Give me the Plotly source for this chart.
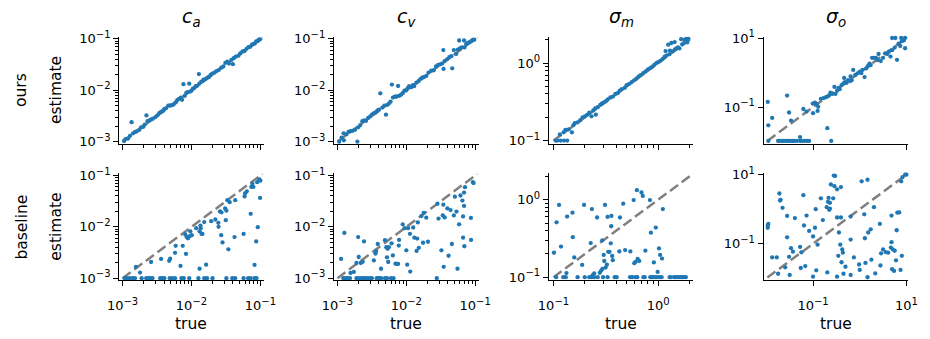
import plotly.graph_objects as go

# ---------------- data ----------------
# c_a, "ours" row
ca_true_ours = [1.05e-3, 1.10e-3, 1.20e-3, 1.28e-3, 1.35e-3, 1.42e-3, 1.52e-3, 1.60e-3, 1.75e-3, 1.85e-3,
                2.00e-3, 2.10e-3, 2.22e-3, 2.30e-3, 2.45e-3, 2.60e-3, 2.75e-3, 3.00e-3, 3.20e-3, 3.40e-3,
                3.60e-3, 3.80e-3, 4.00e-3, 4.30e-3, 4.60e-3, 4.90e-3, 5.20e-3, 5.50e-3, 5.90e-3, 6.20e-3,
                6.60e-3, 7.00e-3, 7.30e-3, 7.64e-3, 8.00e-3, 8.40e-3, 8.80e-3, 9.27e-3, 9.50e-3, 1.00e-2,
                1.05e-2, 1.10e-2, 1.15e-2, 1.20e-2, 1.28e-2, 1.30e-2, 1.38e-2, 1.45e-2, 1.50e-2, 1.60e-2,
                1.70e-2, 1.80e-2, 1.90e-2, 2.00e-2, 2.15e-2, 2.30e-2, 2.50e-2, 2.70e-2, 2.90e-2, 3.10e-2,
                3.30e-2, 3.50e-2, 3.99e-2, 3.80e-2, 4.10e-2, 4.40e-2, 4.80e-2, 5.10e-2, 5.50e-2, 5.90e-2,
                6.30e-2, 6.70e-2, 7.10e-2, 7.50e-2, 7.90e-2, 8.30e-2, 8.70e-2, 9.10e-2, 9.50e-2, 9.90e-2]
ca_est_ours = [1.03e-3, 1.12e-3, 1.15e-3, 1.30e-3, 2.39e-3, 1.45e-3, 1.55e-3, 1.58e-3, 1.70e-3, 1.90e-3,
               1.95e-3, 2.15e-3, 3.24e-3, 2.50e-3, 2.60e-3, 2.70e-3, 2.80e-3, 3.00e-3, 3.25e-3, 3.60e-3,
               3.80e-3, 3.90e-3, 4.30e-3, 4.50e-3, 5.00e-3, 5.10e-3, 5.10e-3, 5.30e-3, 5.80e-3, 6.40e-3,
               6.80e-3, 7.20e-3, 6.50e-3, 1.31e-2, 7.80e-3, 8.90e-3, 9.20e-3, 1.34e-2, 9.40e-3, 9.80e-3,
               1.08e-2, 1.10e-2, 1.20e-2, 1.22e-2, 2.06e-2, 1.35e-2, 1.45e-2, 1.50e-2, 1.60e-2, 1.65e-2,
               1.75e-2, 1.82e-2, 2.00e-2, 2.10e-2, 2.20e-2, 2.35e-2, 2.50e-2, 2.75e-2, 2.90e-2, 3.40e-2,
               3.60e-2, 3.30e-2, 3.22e-2, 3.90e-2, 4.20e-2, 4.50e-2, 4.70e-2, 5.20e-2, 5.70e-2, 5.80e-2,
               6.40e-2, 6.90e-2, 7.00e-2, 7.60e-2, 8.00e-2, 8.10e-2, 8.90e-2, 9.00e-2, 9.60e-2, 9.80e-2]

# c_v, "ours" row
cv_true_ours = [1.06e-3, 1.15e-3, 1.23e-3, 1.24e-3, 1.35e-3, 1.45e-3, 1.55e-3, 1.65e-3, 1.80e-3, 1.95e-3,
                2.00e-3, 2.15e-3, 2.30e-3, 2.45e-3, 2.60e-3, 2.80e-3, 3.00e-3, 3.20e-3, 3.40e-3, 3.60e-3,
                3.80e-3, 4.00e-3, 4.20e-3, 4.50e-3, 4.80e-3, 5.07e-3, 5.30e-3, 5.60e-3, 5.90e-3, 6.17e-3,
                6.40e-3, 6.80e-3, 7.20e-3, 7.60e-3, 7.90e-3, 8.40e-3, 8.90e-3, 9.40e-3, 1.00e-2, 1.05e-2,
                1.10e-2, 1.18e-2, 1.25e-2, 1.30e-2, 1.40e-2, 1.50e-2, 1.60e-2, 1.70e-2, 1.80e-2, 1.95e-2,
                2.10e-2, 2.30e-2, 2.50e-2, 2.70e-2, 2.90e-2, 3.10e-2, 3.30e-2, 3.45e-2, 3.47e-2, 3.60e-2,
                3.90e-2, 4.20e-2, 4.64e-2, 4.50e-2, 4.90e-2, 5.30e-2, 5.85e-2, 5.60e-2, 6.00e-2, 6.40e-2,
                6.90e-2, 7.00e-2, 7.40e-2, 7.80e-2, 8.30e-2, 8.77e-2, 9.20e-2, 9.70e-2]
cv_est_ours = [1.00e-3, 1.20e-3, 1.45e-3, 1.06e-3, 1.38e-3, 1.55e-3, 1.60e-3, 1.62e-3, 1.70e-3, 1.00e-3,
               1.90e-3, 2.10e-3, 2.50e-3, 2.60e-3, 2.55e-3, 2.90e-3, 3.10e-3, 3.40e-3, 3.60e-3, 3.70e-3,
               4.00e-3, 4.20e-3, 8.70e-3, 4.60e-3, 5.00e-3, 3.34e-3, 5.20e-3, 5.50e-3, 6.00e-3, 1.29e-2,
               7.20e-3, 7.50e-3, 7.60e-3, 1.21e-2, 7.80e-3, 8.20e-3, 8.80e-3, 9.80e-3, 1.00e-2, 1.10e-2,
               1.20e-2, 1.15e-2, 1.25e-2, 1.20e-2, 1.40e-2, 1.50e-2, 1.65e-2, 1.75e-2, 1.80e-2, 1.90e-2,
               2.20e-2, 2.40e-2, 2.45e-2, 2.90e-2, 3.10e-2, 3.20e-2, 3.30e-2, 6.05e-2, 2.60e-2, 3.70e-2,
               4.00e-2, 4.40e-2, 2.67e-2, 4.60e-2, 6.05e-2, 5.10e-2, 9.30e-2, 6.20e-2, 6.50e-2, 6.80e-2,
               9.30e-2, 6.80e-2, 7.90e-2, 8.30e-2, 8.60e-2, 9.00e-2, 9.50e-2, 9.60e-2]

# sigma_m, "ours" row
sm_true_ours = [0.115, 0.125, 0.130, 0.140, 0.150, 0.155, 0.160, 0.170, 0.180, 0.190,
                0.200, 0.210, 0.220, 0.231, 0.240, 0.254, 0.250, 0.265, 0.280, 0.290,
                0.300, 0.315, 0.330, 0.350, 0.370, 0.390, 0.410, 0.430, 0.450, 0.480,
                0.500, 0.530, 0.560, 0.590, 0.620, 0.650, 0.680, 0.720, 0.760, 0.800,
                0.840, 0.880, 0.920, 0.960, 1.000, 1.050, 1.100, 1.150, 1.180, 1.200,
                1.250, 1.280, 1.300, 1.340, 1.380, 1.440, 1.450, 1.500, 1.550, 1.600,
                1.660, 1.700, 1.750, 1.790, 1.850, 1.900, 1.950]
sm_est_ours = [0.120, 0.128, 0.137, 0.140, 0.128, 0.158, 0.168, 0.172, 0.183, 0.200,
               0.205, 0.215, 0.230, 0.206, 0.245, 0.216, 0.260, 0.270, 0.290, 0.300,
               0.310, 0.320, 0.340, 0.360, 0.370, 0.400, 0.410, 0.440, 0.460, 0.480,
               0.520, 0.540, 0.570, 0.600, 0.630, 0.670, 0.700, 0.740, 0.780, 0.830,
               0.860, 0.900, 0.950, 1.000, 1.030, 1.070, 1.130, 1.200, 1.430, 1.250,
               1.730, 1.300, 1.450, 1.820, 1.420, 1.870, 1.500, 1.550, 1.600, 1.550,
               2.040, 1.750, 1.800, 2.000, 2.050, 1.850, 2.050]
sm_floor_true_ours = [0.105, 0.109, 0.117, 0.126, 0.135]

# sigma_o, "ours" row
so_true_ours = [0.0107, 0.0110, 0.0133, 0.0278, 0.0306, 0.0337, 0.0527, 0.0619, 0.0726, 0.100,
                0.0984, 0.110, 0.118, 0.125, 0.129, 0.202, 0.147, 0.167, 0.185, 0.202,
                0.219, 0.235, 0.257, 0.287, 0.301, 0.327, 0.350, 0.371, 0.408, 0.449,
                0.479, 0.464, 0.520, 0.560, 0.619, 0.639, 0.670, 0.726, 0.800, 0.900,
                1.00, 1.08, 1.15, 1.27, 1.38, 1.49, 1.62, 1.72, 1.84, 2.05,
                2.22, 2.40, 2.53, 2.83, 3.16, 3.50, 3.89, 4.20, 4.57, 4.95,
                5.62, 6.29, 6.81, 7.99, 7.38, 4.95, 5.81, 7.74, 9.38, 9.38,
                8.80]
so_est_ours = [0.141, 0.0297, 0.0484, 0.215, 0.0696, 0.0408, 0.0135, 0.0880, 0.0741, 0.0667,
               0.126, 0.135, 0.121, 0.0774, 0.102, 0.0245, 0.174, 0.182, 0.190, 0.202,
               0.215, 0.260, 0.240, 0.383, 0.240, 0.297, 0.360, 0.330, 0.435, 0.484,
               0.527, 0.696, 0.500, 0.600, 0.562, 0.774, 0.600, 1.19, 0.850, 0.950,
               1.07, 0.958, 1.20, 0.741, 1.32, 1.53, 1.82, 1.65, 2.67, 2.67,
               2.67, 2.30, 3.44, 2.15, 2.67, 3.60, 3.44, 4.00, 2.90, 4.45,
               5.27, 2.34, 6.81, 8.08, 5.87, 10.0, 10.0, 10.0, 10.0, 5.05,
               8.50]
so_floor_true_ours = [0.0110, 0.0178, 0.0190, 0.0215, 0.0233, 0.0261, 0.0287, 0.0321, 0.0359,
                      0.0396, 0.0450, 0.0527, 0.0581, 0.0660, 0.0750, 0.0825, 0.245]

# c_a, "baseline" row
ca_true_base = [1.56e-3, 1.79e-3, 2.59e-3, 3.62e-3, 4.74e-3, 4.90e-3, 5.77e-3, 5.89e-3, 6.92e-3, 7.46e-3,
                8.32e-3, 8.14e-3, 8.51e-3, 8.88e-3, 9.47e-3, 1.01e-2, 9.60e-3, 1.17e-2, 1.31e-2, 1.35e-2,
                1.36e-2, 1.40e-2, 1.31e-2, 1.44e-2, 1.53e-2, 1.63e-2, 1.93e-2, 2.22e-2, 2.45e-2, 2.47e-2,
                2.70e-2, 2.82e-2, 3.15e-2, 3.43e-2, 2.59e-2, 2.72e-2, 3.08e-2, 3.21e-2, 3.32e-2, 3.58e-2,
                4.21e-2, 4.31e-2, 5.70e-2, 5.89e-2, 6.00e-2, 6.35e-2, 7.23e-2, 7.40e-2, 7.65e-2, 7.90e-2,
                8.23e-2, 8.69e-2, 9.17e-2, 9.00e-2, 9.68e-2, 9.90e-2, 1.00e-1]
ca_est_base = [1.67e-3, 1.29e-3, 2.07e-3, 2.38e-3, 2.19e-3, 2.40e-3, 3.12e-3, 4.27e-3, 1.74e-3, 4.27e-3,
               2.99e-3, 7.11e-3, 6.34e-3, 6.00e-3, 6.62e-3, 6.90e-3, 8.20e-3, 9.44e-3, 8.20e-3, 1.06e-2,
               9.44e-3, 7.30e-3, 1.53e-3, 7.30e-3, 1.24e-2, 1.84e-3, 1.29e-2, 1.39e-2, 1.20e-2, 1.00e-2,
               6.90e-3, 4.99e-3, 1.35e-2, 3.65e-3, 2.00e-2, 1.92e-2, 2.28e-2, 2.07e-2, 3.30e-2, 3.03e-2,
               6.34e-3, 3.30e-2, 7.30e-3, 3.92e-2, 4.50e-2, 4.91e-2, 1.79e-2, 6.00e-2, 6.92e-2, 6.00e-2,
               1.82e-3, 5.20e-3, 9.87e-3, 7.41e-2, 8.43e-2, 3.65e-2, 7.96e-2]
ca_floor_true_base = [1.07e-3, 1.15e-3, 1.26e-3, 1.40e-3, 1.51e-3, 1.89e-3, 2.20e-3, 2.38e-3, 2.54e-3,
                      2.71e-3, 3.51e-3, 3.78e-3, 4.03e-3, 4.84e-3, 5.28e-3, 5.77e-3, 7.16e-3, 7.72e-3,
                      9.27e-3, 1.26e-2, 1.53e-2, 1.68e-2, 2.02e-2, 3.21e-2, 3.91e-2, 4.31e-2, 5.70e-2,
                      6.64e-2, 7.23e-2, 8.23e-2, 8.78e-2]

# c_v, "baseline" row
cv_true_base = [1.13e-3, 1.26e-3, 1.55e-3, 1.73e-3, 1.89e-3, 2.00e-3, 2.04e-3, 2.18e-3, 2.33e-3, 2.43e-3,
                3.38e-3, 3.57e-3, 3.65e-3, 3.85e-3, 4.30e-3, 4.90e-3, 5.13e-3, 5.24e-3, 5.35e-3, 5.47e-3,
                5.59e-3, 6.11e-3, 6.38e-3, 6.96e-3, 7.27e-3, 7.60e-3, 7.77e-3, 7.86e-3, 8.87e-3, 1.00e-2,
                1.03e-2, 9.46e-3, 1.06e-2, 1.13e-2, 1.14e-2, 1.26e-2, 1.31e-2, 1.44e-2, 1.41e-2, 1.47e-2,
                1.52e-2, 1.66e-2, 1.79e-2, 1.95e-2, 1.75e-2, 2.06e-2, 2.83e-2, 2.93e-2, 3.23e-2, 3.38e-2,
                3.45e-2, 3.49e-2, 3.61e-2, 3.94e-2, 4.11e-2, 4.39e-2, 4.59e-2, 4.90e-2, 5.07e-2, 5.35e-2,
                5.53e-2, 5.84e-2, 6.11e-2, 6.52e-2, 6.67e-2, 6.67e-2, 6.89e-2, 6.89e-2, 6.96e-2, 7.12e-2,
                8.67e-2, 8.70e-2, 9.26e-2, 9.47e-2]
cv_est_base = [2.38e-3, 7.63e-3, 1.27e-3, 1.33e-3, 1.98e-3, 6.34e-3, 2.59e-3, 1.98e-3, 2.09e-3, 5.20e-3,
               2.22e-3, 3.03e-3, 3.40e-3, 4.64e-3, 1.53e-3, 5.51e-3, 4.03e-3, 2.55e-3, 3.75e-3, 2.07e-3,
               4.03e-3, 4.78e-3, 2.78e-3, 1.92e-3, 1.90e-3, 1.90e-3, 4.32e-3, 5.58e-3, 1.12e-2, 3.49e-3,
               1.84e-3, 9.44e-3, 9.44e-3, 7.31e-3, 1.35e-3, 9.72e-3, 6.17e-3, 5.91e-3, 3.40e-3, 1.22e-2,
               3.91e-3, 1.62e-2, 1.87e-2, 1.51e-2, 4.91e-3, 5.13e-3, 2.82e-2, 1.45e-2, 3.49e-3, 1.67e-2,
               2.70e-2, 1.67e-3, 1.53e-2, 2.28e-2, 2.74e-3, 2.12e-2, 4.64e-3, 1.67e-2, 3.86e-2, 1.98e-2,
               1.53e-3, 1.12e-2, 4.08e-2, 3.25e-2, 1.60e-2, 6.17e-3, 2.55e-2, 4.64e-2, 4.20e-3, 5.91e-2,
               1.49e-2, 5.58e-3, 7.41e-2, 7.11e-2]
cv_floor_true_base = [1.22e-3, 1.32e-3, 1.40e-3, 1.52e-3, 1.89e-3, 2.04e-3, 2.23e-3, 2.40e-3, 2.57e-3,
                      2.77e-3, 3.03e-3, 3.16e-3, 3.72e-3, 3.85e-3, 4.07e-3, 4.30e-3, 4.90e-3, 5.24e-3,
                      5.97e-3, 6.52e-3, 2.77e-2]

# sigma_m, "baseline" row
sm_true_base = [0.101, 0.107, 0.113, 0.118, 0.133, 0.135, 0.152, 0.153, 0.158, 0.188,
                0.196, 0.227, 0.233, 0.237, 0.245, 0.261, 0.277, 0.285, 0.293, 0.293,
                0.302, 0.306, 0.311, 0.315, 0.324, 0.329, 0.334, 0.343, 0.353, 0.356,
                0.358, 0.364, 0.369, 0.426, 0.432, 0.464, 0.484, 0.543, 0.584, 0.592,
                0.610, 0.627, 0.637, 0.660, 0.694, 0.714, 0.756, 0.836, 0.854, 0.911,
                0.951, 0.990, 1.02, 1.045, 1.09, 1.11]
sm_est_base = [0.207, 0.511, 0.858, 0.249, 0.113, 0.607, 0.681, 0.329, 0.180, 0.144,
               0.858, 0.276, 0.757, 0.106, 0.112, 0.590, 0.114, 0.121, 0.128, 0.299,
               0.194, 0.162, 0.858, 0.133, 0.145, 0.601, 0.213, 0.213, 0.274, 0.455,
               0.619, 0.188, 0.166, 0.215, 0.590, 0.891, 0.224, 0.215, 0.991, 0.152,
               0.158, 1.33, 0.173, 0.162, 1.24, 1.12, 0.220, 0.991, 0.376, 0.155,
               0.438, 0.117, 0.235, 0.194, 0.174, 0.757]
sm_floor_true_base = [0.106, 0.124, 0.131, 0.170, 0.199, 0.220, 0.233, 0.245, 0.265, 0.298, 0.329,
                      0.385, 0.402, 0.540, 0.567, 0.610, 0.632, 0.724, 0.745, 0.842, 0.866, 0.898,
                      0.938, 0.979, 1.04, 1.08, 1.29, 1.32, 1.42, 1.48, 1.55, 1.62, 1.69, 1.76, 1.84]

# sigma_o, "baseline" row
so_true_base = [0.0107, 0.0110, 0.0107, 0.0133, 0.0167, 0.0178, 0.0190, 0.0196, 0.0202, 0.0222,
                0.0253, 0.0278, 0.0278, 0.0306, 0.0316, 0.0337, 0.0371, 0.0408, 0.0527, 0.0545,
                0.0562, 0.0619, 0.0639, 0.0681, 0.0726, 0.0825, 0.100, 0.100, 0.110, 0.114,
                0.117, 0.125, 0.147, 0.162, 0.202, 0.215, 0.209, 0.230, 0.196, 0.222,
                0.230, 0.270, 0.241, 0.278, 0.297, 0.287, 0.327, 0.327, 0.327, 0.348,
                0.359, 0.383, 0.396, 0.408, 0.422, 0.396, 0.435, 0.449, 0.495, 0.639,
                0.639, 0.639, 0.750, 0.968, 1.00, 1.10, 1.25, 1.29, 1.33, 1.47,
                1.47, 1.52, 1.72, 1.78, 2.02, 2.15, 2.70, 2.78, 2.87, 3.16,
                3.59, 4.08, 4.64, 4.80, 4.80, 4.95, 5.11, 5.45, 5.62, 5.99,
                6.19, 6.39, 7.03, 7.50, 7.99, 7.74, 8.25, 9.38, 10.0]
so_est_base = [0.290, 0.375, 0.337, 0.0400, 0.0400, 0.0135, 2.84, 1.78, 1.86, 1.09,
               0.0207, 0.153, 0.639, 0.0417, 0.0124, 0.0741, 0.0587, 0.551, 0.0807, 0.0198,
               0.0562, 2.55, 0.337, 0.0225, 0.653, 0.234, 0.0111, 0.163, 0.290, 1.00,
               0.0170, 0.0938, 2.06, 0.484, 0.0147, 2.11, 1.63, 1.53, 1.14, 0.958,
               1.04, 2.06, 5.17, 9.38, 9.18, 4.64, 3.75, 0.574, 0.0111, 0.0445,
               0.211, 0.0938, 0.574, 0.0290, 0.0681, 4.35, 0.0551, 0.0135, 0.0215, 0.132,
               0.612, 0.0124, 0.0400, 0.0250, 0.0174, 6.39, 0.711, 0.144, 0.0278, 7.11,
               0.0107, 0.211, 0.261, 0.0344, 1.14, 0.0138, 0.375, 0.0234, 0.0527, 0.0681,
               0.0574, 0.0551, 0.0774, 0.653, 0.111, 0.0182, 0.0681, 0.0163, 0.0625, 0.0330,
               0.245, 0.791, 0.807, 0.0174, 0.0445, 6.39, 8.43, 10.0, 10.0]
so_floor_true_base = []

# lower clip value of each estimator (points sitting on the floor)
floor_value = {"ca": 1.0e-3, "cv": 1.0e-3, "sm": 0.1, "so": 0.0105}
# identity-line extent
line_extent = {"ca": [1.0e-3, 0.107], "cv": [1.0e-3, 0.107], "sm": [0.1, 2.2], "so": [0.0105, 10.5]}

col_titles = ["<i>c</i><sub><i>a</i></sub>", "<i>c</i><sub><i>v</i></sub>",
              "<i>σ</i><sub><i>m</i></sub>", "<i>σ</i><sub><i>o</i></sub>"]
row_labels = ["ours", "baseline"]

# ---------------- layout ----------------
W, H = 930, 339
col_left = [110, 330.5, 551, 771.5]
col_w = 148.5
row_top = [29, 171.5]
row_h = 111.5

params = ["ca", "cv", "sm", "so"]
xr = {"ca": [-3.05, -0.95], "cv": [-3.05, -0.95], "sm": [-1.045, 0.338], "so": [-2.06, 1.04]}
yr = {"ca": [-3.04, -0.96], "cv": [-3.04, -0.96], "sm": [-1.04, 0.34], "so": [-2.06, 1.035]}

def sup(k):
    s = str(k).replace("-", "\u2212")
    return '10<sup><span style="font-size:10px">' + s + "</span></sup>"

major = {"ca": [-3, -2, -1], "cv": [-3, -2, -1], "sm": [-1, 0], "so": [-1, 1]}
minor = {
    "ca": [m * 10.0 ** e for e in (-3, -2) for m in range(2, 10)],
    "cv": [m * 10.0 ** e for e in (-3, -2) for m in range(2, 10)],
    "sm": [m * 0.1 for m in range(2, 10)] + [2.0],
    "so": [],
}

data = {
    ("ours", "ca"): (ca_true_ours, ca_est_ours, []),
    ("ours", "cv"): (cv_true_ours, cv_est_ours, []),
    ("ours", "sm"): (sm_true_ours, sm_est_ours, sm_floor_true_ours),
    ("ours", "so"): (so_true_ours, so_est_ours, so_floor_true_ours),
    ("baseline", "ca"): (ca_true_base, ca_est_base, ca_floor_true_base),
    ("baseline", "cv"): (cv_true_base, cv_est_base, cv_floor_true_base),
    ("baseline", "sm"): (sm_true_base, sm_est_base, sm_floor_true_base),
    ("baseline", "so"): (so_true_base, so_est_base, so_floor_true_base),
}

fig = go.Figure()
layout = dict(width=W, height=H, margin=dict(l=0, r=0, t=0, b=0),
              paper_bgcolor="white", plot_bgcolor="white", showlegend=False,
              font=dict(family="DejaVu Sans", color="black"))
annotations = []
tickfont = dict(family="DejaVu Sans", size=13, color="black")

for r, row in enumerate(row_labels):
    for c, p in enumerate(params):
        n = r * 4 + c + 1
        xa = "x" if n == 1 else f"x{n}"
        ya = "y" if n == 1 else f"y{n}"
        xkey = "xaxis" if n == 1 else f"xaxis{n}"
        ykey = "yaxis" if n == 1 else f"yaxis{n}"
        x0 = col_left[c] / W
        x1 = (col_left[c] + col_w) / W
        y1 = 1 - row_top[r] / H
        y0 = 1 - (row_top[r] + row_h) / H
        common = dict(type="log", showline=True, linecolor="black", linewidth=1.1,
                      ticks="outside", ticklen=5, tickwidth=1.0, tickcolor="black",
                      showgrid=False, zeroline=False, tickfont=tickfont,
                      tickmode="array",
                      minor=dict(tickmode="array", tickvals=minor[p], ticks="outside",
                                 ticklen=2.8, tickwidth=0.8, tickcolor="black", showgrid=False))
        layout[xkey] = dict(common, domain=[x0, x1], range=xr[p], anchor=ya,
                            tickvals=[10.0 ** k for k in major[p]],
                            ticktext=[sup(k) for k in major[p]],
                            showticklabels=(r == 1), ticklabelstandoff=8)
        layout[ykey] = dict(common, domain=[y0, y1], range=yr[p], anchor=xa,
                            tickvals=[10.0 ** k for k in major[p]],
                            ticktext=[sup(k) for k in major[p]])

        lo, hi = line_extent[p]
        fig.add_trace(go.Scatter(x=[lo, hi], y=[lo, hi], mode="lines", xaxis=xa, yaxis=ya,
                                 line=dict(color="gray", width=2.5, dash="10px,4.5px"),
                                 hoverinfo="skip"))
        tx, ey, fl = data[(row, p)]
        xs = list(tx) + list(fl)
        ys = list(ey) + [floor_value[p] for _ in fl]
        fig.add_trace(go.Scatter(x=xs, y=ys, mode="markers", xaxis=xa, yaxis=ya,
                                 cliponaxis=False,
                                 marker=dict(size=4.3, color="#1f77b4", line=dict(width=0))))

# column titles
for c in range(4):
    annotations.append(dict(text=col_titles[c], x=(col_left[c] + col_w / 2) / W, y=1 - 9 / H,
                            xref="paper", yref="paper", showarrow=False,
                            xanchor="center", yanchor="middle",
                            font=dict(family="DejaVu Sans", size=19, color="black")))
# row labels and y titles
for r in range(2):
    yc = 1 - (row_top[r] + row_h / 2) / H
    annotations.append(dict(text=row_labels[r], x=10 / W, y=yc, xref="paper", yref="paper",
                            showarrow=False, textangle=-90, xanchor="center", yanchor="middle",
                            font=dict(family="DejaVu Sans", size=15.5, color="black")))
    annotations.append(dict(text="estimate", x=45 / W, y=yc, xref="paper", yref="paper",
                            showarrow=False, textangle=-90, xanchor="center", yanchor="middle",
                            font=dict(family="DejaVu Sans", size=15.5, color="black")))
# x titles
for c in range(4):
    annotations.append(dict(text="true", x=(col_left[c] + col_w / 2) / W, y=1 - 329 / H,
                            xref="paper", yref="paper", showarrow=False,
                            xanchor="center", yanchor="middle",
                            font=dict(family="DejaVu Sans", size=15.5, color="black")))

layout["annotations"] = annotations
fig.update_layout(**layout)
fig.write_html("out.html")
